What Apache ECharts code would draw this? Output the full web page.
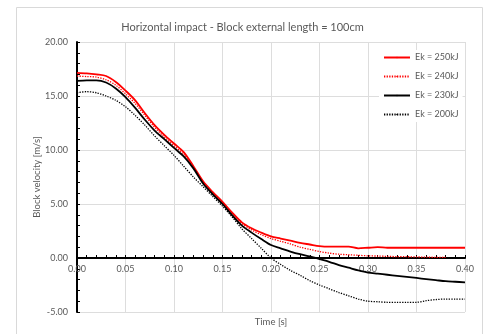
<!DOCTYPE html>
<html>
<head>
<meta charset="utf-8">
<script src="https://cdn.jsdelivr.net/npm/echarts@6/dist/echarts.min.js"></script>
<style>
  html, body { margin: 0; padding: 0; background: #fff; }
  #chart { width: 485px; height: 334px; }
</style>
</head>
<body>
<div id="chart"></div>
<script>
// Time samples [s]
const time = [0.00, 0.01, 0.02, 0.03, 0.04, 0.05, 0.06, 0.07, 0.08, 0.09,
              0.10, 0.11, 0.12, 0.13, 0.14, 0.15, 0.16, 0.17, 0.18, 0.19,
              0.20, 0.21, 0.22, 0.23, 0.24, 0.25, 0.26, 0.27, 0.28, 0.29,
              0.30, 0.31, 0.32, 0.33, 0.34, 0.35, 0.36, 0.37, 0.38, 0.39, 0.40];

// Block velocity [m/s] for each impact energy
const v250 = [17.15, 17.1, 17.0, 16.85, 16.3, 15.5, 14.6, 13.4, 12.3, 11.4,
              10.6, 9.8, 8.5, 7.1, 6.1, 5.2, 4.2, 3.3, 2.75, 2.35,
              2.0, 1.8, 1.6, 1.4, 1.25, 1.1, 1.05, 1.05, 1.05, 0.9,
              0.95, 1.0, 0.95, 0.95, 0.95, 0.95, 0.95, 0.95, 0.95, 0.95, 0.95];
const v240 = [16.85, 16.8, 16.75, 16.5, 16.0, 15.2, 14.3, 13.2, 12.1, 11.2,
              10.4, 9.6, 8.4, 7.0, 6.0, 5.1, 4.1, 3.2, 2.6, 2.15,
              1.8, 1.55, 1.3, 1.0, 0.8, 0.6, 0.45, 0.35, 0.3, 0.25,
              0.2, 0.18, 0.15, 0.13, 0.12, 0.1, 0.08, 0.06, 0.05];
const v230 = [16.4, 16.45, 16.45, 16.25, 15.7, 14.9, 13.9, 12.8, 11.8, 11.0,
              10.2, 9.4, 8.3, 6.9, 5.9, 5.0, 3.95, 3.0, 2.35, 1.75,
              1.2, 0.9, 0.6, 0.35, 0.15, -0.1, -0.35, -0.65, -0.9, -1.15,
              -1.35, -1.45, -1.55, -1.65, -1.75, -1.85, -1.95, -2.05, -2.15, -2.2, -2.25];
const v200 = [15.3, 15.4, 15.3, 15.0, 14.6, 14.0, 13.2, 12.3, 11.3, 10.4,
              9.5, 8.5, 7.5, 6.6, 5.7, 4.8, 3.8, 2.7, 1.8, 0.9,
              0.0, -0.6, -1.15, -1.6, -2.1, -2.5, -2.85, -3.2, -3.5, -3.8,
              -4.0, -4.05, -4.1, -4.1, -4.1, -4.1, -3.95, -3.85, -3.8, -3.8, -3.8];

const seriesNames = ['Ek = 250kJ', 'Ek = 240kJ', 'Ek = 230kJ', 'Ek = 200kJ'];

// Axis ranges and tick spacing
const xMin = 0, xMax = 0.4, xStep = 0.05;
const yMin = -5, yMax = 20, yStep = 5;

// Plot area placement inside the 485x334 canvas
const W = 485, H = 334;
const gridBox = { left: 77, right: 20, top: 42, bottom: 22 };
const plotH = H - gridBox.top - gridBox.bottom;
// Lift the time axis from the bottom edge up to the v = 0 line
const zeroOffset = -plotH * (0 - yMin) / (yMax - yMin);

const pairs = (vals) => vals.map((v, i) => [time[i], v]);

const FONT = 'Lato';
const GREY = '#595959';

const chart = echarts.init(document.getElementById('chart'));
chart.setOption({
  animation: false,
  textStyle: { fontFamily: FONT },
  title: {
    text: 'Horizontal impact - Block external length = 100cm',
    left: 'center',
    top: 17,
    textStyle: { fontSize: 11, fontWeight: 'normal', color: GREY, fontFamily: FONT }
  },
  graphic: [{
    type: 'rect',
    shape: { x: 16.5, y: 7.5, width: 466, height: 340 },
    style: { fill: 'none', stroke: '#d9d9d9', lineWidth: 1 },
    silent: true, z: -1
  }],
  grid: Object.assign({ containLabel: false, outerBoundsMode: 'none' }, gridBox),
  legend: {
    orient: 'vertical',
    left: 379,
    top: 50,
    padding: [3, 4, 3, 4],
    itemWidth: 26,
    itemHeight: 2,
    itemGap: 10,
    backgroundColor: '#ffffff',
    textStyle: { fontSize: 9, color: GREY, fontFamily: FONT },
    data: seriesNames
  },
  xAxis: {
    type: 'value',
    min: xMin, max: xMax, interval: xStep,
    position: 'bottom',
    offset: zeroOffset,
    name: 'Time [s]',
    nameLocation: 'middle',
    nameGap: 59,
    nameMoveOverlap: false,
    nameTextStyle: { fontSize: 9.5, color: GREY },
    axisLine: { onZero: false, lineStyle: { color: '#000', width: 2 } },
    axisTick: { show: true, inside: true, length: 3, lineStyle: { color: '#000', width: 1 } },
    minorTick: { show: true, splitNumber: 5, length: 3, lineStyle: { color: '#000', width: 1 } },
    axisLabel: { fontSize: 9, color: GREY, margin: 7, formatter: (v) => v.toFixed(2) },
    splitLine: { show: true, lineStyle: { color: '#dddddd', width: 1 } }
  },
  yAxis: {
    type: 'value',
    min: yMin, max: yMax, interval: yStep,
    name: 'Block velocity [m/s]',
    nameLocation: 'middle',
    nameGap: 35,
    nameMoveOverlap: false,
    nameTextStyle: { fontSize: 9.5, color: GREY },
    axisLine: { show: true, onZero: false, lineStyle: { color: '#000', width: 2 } },
    axisTick: { show: true, inside: true, length: 3, lineStyle: { color: '#000', width: 1 } },
    minorTick: { show: true, splitNumber: 5, length: 3, lineStyle: { color: '#000', width: 1 } },
    axisLabel: { fontSize: 9, color: GREY, margin: 9, formatter: (v) => v.toFixed(2) },
    splitLine: { show: true, lineStyle: { color: '#dddddd', width: 1 } }
  },
  series: [
    { name: seriesNames[0], type: 'line', data: pairs(v250), symbol: 'none', smooth: 0.3,
      lineStyle: { color: '#ff0000', width: 1.8, type: 'solid' }, itemStyle: { color: '#ff0000' } },
    { name: seriesNames[1], type: 'line', data: pairs(v240), symbol: 'none', smooth: 0.3,
      lineStyle: { color: '#ff0000', width: 1.3, type: [1.3, 1.3] }, itemStyle: { color: '#ff0000' } },
    { name: seriesNames[2], type: 'line', data: pairs(v230), symbol: 'none', smooth: 0.3,
      lineStyle: { color: '#000000', width: 1.8, type: 'solid' }, itemStyle: { color: '#000000' } },
    { name: seriesNames[3], type: 'line', data: pairs(v200), symbol: 'none', smooth: 0.3,
      lineStyle: { color: '#000000', width: 1.3, type: [1.3, 1.3] }, itemStyle: { color: '#000000' } }
  ]
});
</script>
</body>
</html>
